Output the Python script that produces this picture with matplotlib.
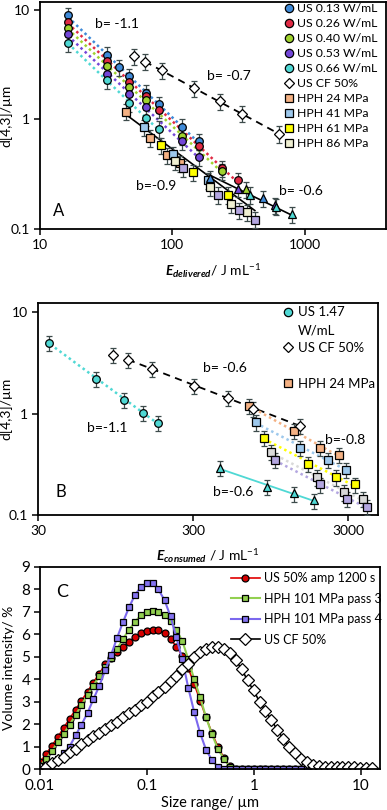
import numpy as np
import matplotlib
matplotlib.use('Agg')
import matplotlib.pyplot as plt
from matplotlib.lines import Line2D
from matplotlib.ticker import FixedLocator, FixedFormatter, NullLocator

plt.rcParams['font.family'] = ['Lato', 'DejaVu Sans']
plt.rcParams['mathtext.fontset'] = 'custom'
plt.rcParams['mathtext.rm'] = 'Lato'
plt.rcParams['mathtext.it'] = 'Lato:italic'
plt.rcParams['mathtext.bf'] = 'Lato:bold:italic'

# ---------------- panel A : d[4,3] vs delivered energy ----------------
us_labels = ['US 0.13 W/mL', 'US 0.26 W/mL', 'US 0.40 W/mL', 'US 0.53 W/mL', 'US 0.66 W/mL']
us_colors = ['#3f8ad8', '#e02a44', '#9fd22e', '#7346d8', '#4fd8d4']
us_x = [[16.3, 32, 39.5, 47, 63, 79, 118, 158],
        [16.3, 32, 47, 63, 79, 158, 236, 312],
        [16.3, 32, 47, 63, 118, 236],
        [16.3, 32, 47, 63, 118, 158],
        [16.3, 32, 47, 63, 79]]
us_y = [[8.9, 3.9, 2.98, 2.47, 1.76, 1.37, 0.86, 0.63],
        [7.8, 3.45, 2.22, 1.62, 1.23, 0.57, 0.357, 0.28],
        [6.8, 3.05, 1.96, 1.52, 0.71, 0.335],
        [6.0, 2.6, 1.69, 1.29, 0.63, 0.45],
        [5.0, 2.27, 1.40, 1.04, 0.82]]
# late points drawn as triangles
tri_x = [[192, 482], [], [359], [312, 600], [385, 604, 798]]
tri_y = [[0.29, 0.19], [], [0.23], [0.234, 0.165], [0.205, 0.16, 0.137]]

cf_a_x = [51, 62, 83, 145, 228, 334, 635]
cf_a_y = [3.76, 3.38, 2.8, 1.92, 1.46, 1.13, 0.74]

hph_labels = ['HPH 24 MPa', 'HPH 41 MPa', 'HPH 61 MPa', 'HPH 86 MPa', 'HPH 101 MPa']
hph_colors = ['#f4b183', '#9dc8ec', '#ffff00', '#efefd2', '#b3a6e0']
hph_a_x = [[44.7, 68, 91, 114], [61, 101, 185], [82, 143, 263],
           [104, 192, 277, 365], [120, 220, 318, 420]]
hph_a_y = [[1.18, 0.68, 0.47, 0.40], [0.85, 0.48, 0.28], [0.58, 0.33, 0.205],
           [0.42, 0.24, 0.17, 0.142], [0.36, 0.205, 0.148, 0.122]]

# ---------------- panel B : d[4,3] vs consumed energy ----------------
us147_x = [35.3, 71, 108, 143, 178]
us147_y = [5.0, 2.21, 1.37, 1.02, 0.81]
tri_b_x = [448, 900, 1345, 1810]
tri_b_y = [0.29, 0.19, 0.163, 0.139]
cf_b_x = [91, 114, 163, 304, 505, 731, 1470]
cf_b_y = [3.8, 3.4, 2.77, 1.89, 1.44, 1.12, 0.76]
hph_b_colors = ['#f4b183', '#9dc8ec', '#ffff00', '#d9d9d9', '#b3a6e0']
hph_b_x = [[689, 1345, 1976, 2620], [764, 1470, 2230, 2910], [860, 1655, 2510, 3325],
           [955, 1890, 2825, 3750], [1015, 1976, 2950, 4000]]
hph_b_y = [[1.2, 0.68, 0.46, 0.394], [0.82, 0.46, 0.35, 0.28], [0.58, 0.32, 0.235, 0.2],
           [0.42, 0.235, 0.167, 0.145], [0.35, 0.2, 0.145, 0.12]]

# ---------------- panel C : size distributions ----------------
size_um = [0.0100, 0.0114, 0.0129, 0.0147, 0.0167, 0.0189, 0.0215, 0.0244, 0.0278, 0.0315,
           0.0358, 0.0407, 0.0463, 0.0526, 0.0597, 0.0679, 0.0771, 0.0876, 0.0995, 0.113,
           0.128, 0.146, 0.166, 0.188, 0.214, 0.243, 0.276, 0.314, 0.357, 0.405,
           0.460, 0.523, 0.594, 0.675, 0.767, 0.872, 0.991, 1.13, 1.28, 1.45,
           1.65, 1.88, 2.13, 2.42, 2.75, 3.12, 3.55, 4.03, 4.58, 5.21,
           5.92, 6.72, 7.64, 8.68, 9.86, 11.2, 12.7]
us50 = [0.3, 0.67, 1.03, 1.43, 1.84, 2.24, 2.64, 3.04, 3.45, 3.85,
        4.25, 4.66, 4.95, 5.2, 5.45, 5.68, 5.88, 6.05, 6.15, 6.2,
        6.18, 6.05, 5.8, 5.45, 5.05, 4.5, 3.8, 3.05, 2.3, 1.6,
        1.0, 0.5, 0.12, 0, 0, 0, 0, 0, 0, 0,
        0, 0, 0, 0, 0, 0, 0, 0, 0, 0,
        0, 0, 0, 0, 0, 0, 0]
hph3 = [0.15, 0.45, 0.8, 1.2, 1.57, 1.97, 2.4, 2.85, 3.3, 3.7,
        4.15, 4.55, 4.95, 5.35, 5.8, 6.2, 6.55, 6.85, 7.0, 7.05,
        7.0, 6.85, 6.6, 6.2, 5.7, 4.9, 4.0, 3.2, 2.3, 1.55,
        0.9, 0.45, 0.1, 0, 0, 0, 0, 0, 0, 0,
        0, 0, 0, 0, 0, 0, 0, 0, 0, 0,
        0, 0, 0, 0, 0, 0, 0]
hph4 = [0.04, 0.1, 0.27, 0.45, 0.7, 1.0, 1.5, 1.97, 2.5, 3.1,
        3.7, 4.4, 5.1, 5.85, 6.55, 7.2, 7.75, 8.1, 8.28, 8.28,
        8.0, 7.52, 6.8, 5.87, 4.88, 3.63, 2.55, 1.6, 0.85, 0.4,
        0.09, 0, 0, 0, 0, 0, 0, 0, 0, 0,
        0, 0, 0, 0, 0, 0, 0, 0, 0, 0,
        0, 0, 0, 0, 0, 0, 0]
uscf = [0.05, 0.1, 0.25, 0.4, 0.55, 0.75, 0.9, 1.1, 1.3, 1.45,
        1.6, 1.8, 1.95, 2.1, 2.3, 2.5, 2.65, 2.85, 3.0, 3.25,
        3.45, 3.65, 3.9, 4.15, 4.45, 4.7, 5.0, 5.2, 5.35, 5.45,
        5.45, 5.35, 5.15, 4.85, 4.45, 3.95, 3.5, 3.0, 2.6, 2.2,
        1.75, 1.35, 1.0, 0.7, 0.45, 0.3, 0.18, 0.12, 0.1, 0.1,
        0.1, 0.1, 0.1, 0.08, 0.06, 0.05, 0.05]

EB = '#3d4b4b'


def pts(ax, x, y, color, marker, ms=5.5, rel=0.17, z=3):
    y = np.array(y)
    ax.errorbar(x, y, yerr=y * rel, fmt=marker, ms=ms, mfc=color, mec='black', mew=0.9,
                ecolor=EB, elinewidth=0.9, capsize=2.5, capthick=0.9, zorder=z)


def trend(ax, x, y, x0, x1, color, ls, lw=1.8, z=2):
    k, c = np.polyfit(np.log10(x), np.log10(y), 1)
    xx = np.logspace(np.log10(x0), np.log10(x1), 20)
    ax.plot(xx, 10 ** (c + k * np.log10(xx)), color=color, ls=ls, lw=lw, zorder=z)


def log_axes(ax, xt, yt):
    ax.set_xscale('log')
    ax.set_yscale('log')
    ax.xaxis.set_major_locator(FixedLocator(xt))
    ax.xaxis.set_major_formatter(FixedFormatter([f'{v:g}' for v in xt]))
    ax.yaxis.set_major_locator(FixedLocator(yt))
    ax.yaxis.set_major_formatter(FixedFormatter([f'{v:g}' for v in yt]))
    ax.xaxis.set_minor_locator(NullLocator())
    ax.yaxis.set_minor_locator(NullLocator())


def style(ax):
    for s in ax.spines.values():
        s.set_linewidth(1.3)
    ax.tick_params(direction='out', length=4, width=1.1, labelsize=10, pad=3)


DOT = (0, (1, 1.3))

fig = plt.figure(figsize=(3.87, 8.10), dpi=100)

# ---------- A ----------
axA = fig.add_axes([0.1034, 0.7173, 0.893, 0.2802])
log_axes(axA, [10, 100, 1000], [0.1, 1, 10])
axA.set_xlim(10, 4085)
axA.set_ylim(0.1, 11.8)

for i in range(5):
    trend(axA, us_x[i], us_y[i], 17.5, us_x[i][-1], us_colors[i], DOT)
trend(axA, cf_a_x[1:], cf_a_y[1:], 62, 635, 'black', (0, (4, 3)), lw=1.3)
axA.plot([45, 420], [1.1, 1.1 * (420 / 45) ** -0.9], color='black', lw=1.2, zorder=2)
axA.plot([192, 800], [0.31, 0.31 * (800 / 192) ** -0.59], color='black', lw=1.2, zorder=2)

for i in range(5):
    pts(axA, hph_a_x[i], hph_a_y[i], hph_colors[i], 's', ms=6)
for i in range(5):
    pts(axA, us_x[i], us_y[i], us_colors[i], 'o')
    if tri_x[i]:
        pts(axA, tri_x[i], tri_y[i], us_colors[i], '^', ms=6)
pts(axA, cf_a_x, cf_a_y, 'white', 'D', ms=5.5)

handlesA = [Line2D([], [], ls='', marker='o', ms=6, mfc=c, mec='black', mew=0.9) for c in us_colors]
handlesA.append(Line2D([], [], ls='', marker='D', ms=5.5, mfc='white', mec='black', mew=0.9))
handlesA += [Line2D([], [], ls='', marker='s', ms=6, mfc=c, mec='black', mew=0.9) for c in hph_colors[:4]]
axA.legend(handlesA, us_labels + ['US CF 50%'] + hph_labels[:4], loc='upper left',
           bbox_to_anchor=(0.705, 0.995), frameon=False, fontsize=8.8, handlelength=0.8,
           handletextpad=0.3, labelspacing=0.33, borderpad=0, borderaxespad=0)

axA.text(0.159, 0.903, 'b= -1.1', transform=axA.transAxes, fontsize=10, va='center')
axA.text(0.483, 0.674, 'b= -0.7', transform=axA.transAxes, fontsize=10, va='center')
axA.text(0.277, 0.189, 'b=-0.9', transform=axA.transAxes, fontsize=10, va='center')
axA.text(0.691, 0.167, 'b= -0.6', transform=axA.transAxes, fontsize=10, va='center')
axA.text(0.055, 0.079, 'A', transform=axA.transAxes, fontsize=12, va='center', ha='center')
axA.set_xlabel(r'$\mathbf{E}_{\mathbf{delivered}}$/ J mL$^{-1}$', fontsize=10)
axA.set_ylabel('d[4,3]/µm', fontsize=10)
axA.xaxis.set_label_coords(0.5, -0.145)
axA.yaxis.set_label_coords(-0.081, 0.5)
style(axA)

# ---------- B ----------
axB = fig.add_axes([0.0982, 0.3642, 0.8785, 0.2617])
log_axes(axB, [30, 300, 3000], [0.1, 1, 10])
axB.set_xlim(30, 4690)
axB.set_ylim(0.1, 12.3)

trend(axB, us147_x, us147_y, 36, 185, '#4fd8d4', DOT)
trend(axB, cf_b_x[1:], cf_b_y[1:], 114, 1470, 'black', (0, (4, 3)), lw=1.3)
trend(axB, tri_b_x, tri_b_y, 460, 1800, '#4fd8d4', '-', lw=1.3)
for i in range(5):
    trend(axB, hph_b_x[i], hph_b_y[i], hph_b_x[i][0], hph_b_x[i][-1], hph_b_colors[i], DOT)
for i in range(5):
    pts(axB, hph_b_x[i], hph_b_y[i], hph_b_colors[i], 's', ms=6)
pts(axB, us147_x, us147_y, '#4fd8d4', 'o')
pts(axB, tri_b_x, tri_b_y, '#4fd8d4', '^', ms=6)
pts(axB, cf_b_x, cf_b_y, 'white', 'D', ms=5.5)

blank = Line2D([], [], ls='', marker='')
handlesB = [Line2D([], [], ls='', marker='o', ms=6, mfc='#4fd8d4', mec='black', mew=0.9), blank,
            Line2D([], [], ls='', marker='D', ms=5.5, mfc='white', mec='black', mew=0.9), blank,
            Line2D([], [], ls='', marker='s', ms=6, mfc='#f4b183', mec='black', mew=0.9)]
axB.legend(handlesB, ['US 1.47', 'W/mL', 'US CF 50%', ' ', 'HPH 24 MPa'], loc='upper left',
           bbox_to_anchor=(0.72, 0.985), frameon=False, fontsize=9.5, handlelength=0.8,
           handletextpad=0.35, labelspacing=0.45, borderpad=0, borderaxespad=0)

axB.text(0.485, 0.693, 'b= -0.6', transform=axB.transAxes, fontsize=10, va='center')
axB.text(0.144, 0.41, 'b=-1.1', transform=axB.transAxes, fontsize=10, va='center')
axB.text(0.844, 0.354, 'b=-0.8', transform=axB.transAxes, fontsize=10, va='center')
axB.text(0.515, 0.108, 'b=-0.6', transform=axB.transAxes, fontsize=10, va='center')
axB.text(0.068, 0.108, 'B', transform=axB.transAxes, fontsize=12, va='center', ha='center')
axB.set_xlabel(r'$\mathbf{E}_{\mathbf{consumed}}$ / J mL$^{-1}$', fontsize=10)
axB.set_ylabel('d[4,3]/µm', fontsize=10)
axB.xaxis.set_label_coords(0.5, -0.151)
axB.yaxis.set_label_coords(-0.076, 0.5)
style(axB)

# ---------- C ----------
axC = fig.add_axes([0.1034, 0.0506, 0.8786, 0.2494])
axC.set_xscale('log')
axC.xaxis.set_major_locator(FixedLocator([0.01, 0.1, 1, 10]))
axC.xaxis.set_major_formatter(FixedFormatter(['0.01', '0.1', '1', '10']))
axC.xaxis.set_minor_locator(NullLocator())
axC.set_xlim(0.01, 15.1)
axC.set_ylim(0, 9)
axC.set_yticks(range(10))

axC.plot(size_um, us50, '-', color='#e00000', lw=1.2, marker='o', ms=5, mfc='#d40000',
         mec='black', mew=0.9, label='US 50% amp 1200 s')
axC.plot(size_um, hph3, '-', color='#92d050', lw=1.5, marker='s', ms=5, mfc='#92d050',
         mec='black', mew=0.9, label='HPH 101 MPa pass 3')
axC.plot(size_um, hph4, '-', color='#7b68ee', lw=1.5, marker='s', ms=5, mfc='#8473f0',
         mec='black', mew=0.9, label='HPH 101 MPa pass 4')
axC.plot(size_um, uscf, '-', color='black', lw=1.2, marker='D', ms=6.5, mfc='white',
         mec='black', mew=0.9, label='US CF 50%')
axC.legend(loc='upper left', bbox_to_anchor=(0.562, 0.975), frameon=False, fontsize=9.0,
           handlelength=2.3, handletextpad=0.3, labelspacing=0.68, borderpad=0, borderaxespad=0)
axC.text(0.065, 0.876, 'C', transform=axC.transAxes, fontsize=13, va='center', ha='center')
axC.set_xlabel('Size range/ µm', fontsize=10.5)
axC.set_ylabel('Volume intensity/ %', fontsize=10)
axC.xaxis.set_label_coords(0.5, -0.135)
axC.yaxis.set_label_coords(-0.075, 0.5)
style(axC)
axC.tick_params(labelsize=11)

fig.savefig('out.png', dpi=100)
